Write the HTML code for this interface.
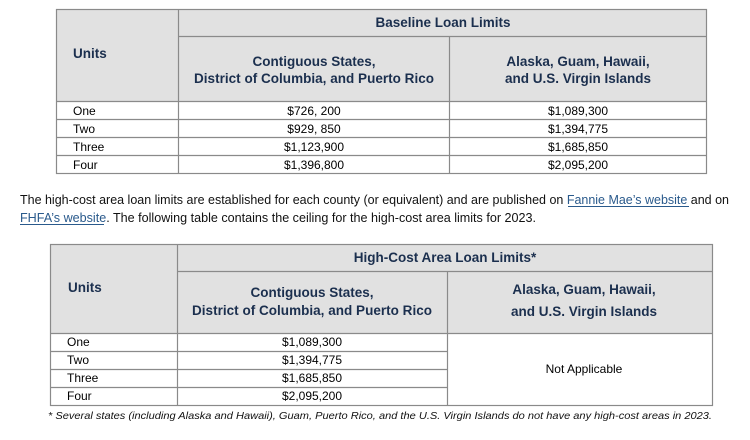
<!DOCTYPE html>
<html><head><meta charset="utf-8"><style>
html,body{margin:0;padding:0;background:#fff;}
svg{display:block;}
.h{font-family:"Liberation Sans",sans-serif;font-weight:bold;fill:#1b2f4e;font-size:13.5px;}
.d{font-family:"Liberation Sans",sans-serif;fill:#000;font-size:12px;}
.p{font-family:"Liberation Sans",sans-serif;fill:#111;font-size:12.5px;}
.l{fill:#2a5a8c;}
.f{font-family:"Liberation Sans",sans-serif;font-style:italic;fill:#111;font-size:10.5px;}
</style></head><body>
<svg width="750" height="440" viewBox="0 0 750 440" xmlns="http://www.w3.org/2000/svg">
<rect x="56" y="9" width="651" height="92" fill="#e1e1e1"/>
<g stroke="#8a8a8a" stroke-width="1.2" fill="none">
<rect x="56.5" y="9.5" width="650" height="164"/>
<line x1="178.5" y1="9" x2="178.5" y2="174"/>
<line x1="449.5" y1="36" x2="449.5" y2="174"/>
<line x1="178" y1="36.5" x2="707" y2="36.5"/>
<line x1="56" y1="101.5" x2="707" y2="101.5"/>
<line x1="56" y1="119.5" x2="707" y2="119.5"/>
<line x1="56" y1="137.5" x2="707" y2="137.5"/>
<line x1="56" y1="155.5" x2="707" y2="155.5"/>
</g>
<text class="h" x="443" y="27" text-anchor="middle">Baseline Loan Limits</text>
<text class="h" x="73" y="58">Units</text>
<text class="h" x="314" y="66" text-anchor="middle">Contiguous States,</text>
<text class="h" x="314" y="83" text-anchor="middle" textLength="240">District of Columbia, and Puerto Rico</text>
<text class="h" x="578" y="66" text-anchor="middle">Alaska, Guam, Hawaii,</text>
<text class="h" x="578" y="83" text-anchor="middle">and U.S. Virgin Islands</text>
<text class="d" x="73" y="115">One</text>
<text class="d" x="73" y="133">Two</text>
<text class="d" x="73" y="151">Three</text>
<text class="d" x="73" y="169">Four</text>
<text class="d" x="314" y="115" text-anchor="middle">$726, 200</text>
<text class="d" x="314" y="133" text-anchor="middle">$929, 850</text>
<text class="d" x="314" y="151" text-anchor="middle">$1,123,900</text>
<text class="d" x="314" y="169" text-anchor="middle">$1,396,800</text>
<text class="d" x="578" y="115" text-anchor="middle">$1,089,300</text>
<text class="d" x="578" y="133" text-anchor="middle">$1,394,775</text>
<text class="d" x="578" y="151" text-anchor="middle">$1,685,850</text>
<text class="d" x="578" y="169" text-anchor="middle">$2,095,200</text>
<text class="p" x="20" y="204" textLength="709" lengthAdjust="spacingAndGlyphs">The high-cost area loan limits are established for each county (or equivalent) and are published on <tspan class="l">Fannie Mae’s website</tspan> and on</text>
<line x1="568" y1="206.5" x2="689" y2="206.5" stroke="#2a5a8c" stroke-width="1"/>
<text class="p" x="20" y="222" textLength="516" lengthAdjust="spacingAndGlyphs"><tspan class="l">FHFA’s website</tspan>. The following table contains the ceiling for the high-cost area limits for 2023.</text>
<line x1="20" y1="224.5" x2="104" y2="224.5" stroke="#2a5a8c" stroke-width="1"/>
<rect x="50" y="244" width="663" height="89" fill="#e1e1e1"/>
<g stroke="#8a8a8a" stroke-width="1.2" fill="none">
<rect x="50.5" y="244.5" width="662" height="161"/>
<line x1="177.5" y1="244" x2="177.5" y2="406"/>
<line x1="447.5" y1="271" x2="447.5" y2="406"/>
<line x1="177" y1="271.5" x2="713" y2="271.5"/>
<line x1="50" y1="333.5" x2="713" y2="333.5"/>
<line x1="50" y1="351.5" x2="447" y2="351.5"/>
<line x1="50" y1="369.5" x2="447" y2="369.5"/>
<line x1="50" y1="387.5" x2="447" y2="387.5"/>
</g>
<text class="h" x="445" y="262" text-anchor="middle">High-Cost Area Loan Limits*</text>
<text class="h" x="68" y="292">Units</text>
<text class="h" x="312" y="297" text-anchor="middle">Contiguous States,</text>
<text class="h" x="312" y="315" text-anchor="middle" textLength="240">District of Columbia, and Puerto Rico</text>
<text class="h" x="584" y="294" text-anchor="middle">Alaska, Guam, Hawaii,</text>
<text class="h" x="584" y="316" text-anchor="middle">and U.S. Virgin Islands</text>
<text class="d" x="67" y="346">One</text>
<text class="d" x="67" y="364">Two</text>
<text class="d" x="67" y="382">Three</text>
<text class="d" x="67" y="400">Four</text>
<text class="d" x="312" y="346" text-anchor="middle">$1,089,300</text>
<text class="d" x="312" y="364" text-anchor="middle">$1,394,775</text>
<text class="d" x="312" y="382" text-anchor="middle">$1,685,850</text>
<text class="d" x="312" y="400" text-anchor="middle">$2,095,200</text>
<text class="d" x="584" y="373" text-anchor="middle">Not Applicable</text>
<text class="f" x="48" y="419" textLength="664" lengthAdjust="spacingAndGlyphs">* Several states (including Alaska and Hawaii), Guam, Puerto Rico, and the U.S. Virgin Islands do not have any high-cost areas in 2023.</text>
</svg>
</body></html>
